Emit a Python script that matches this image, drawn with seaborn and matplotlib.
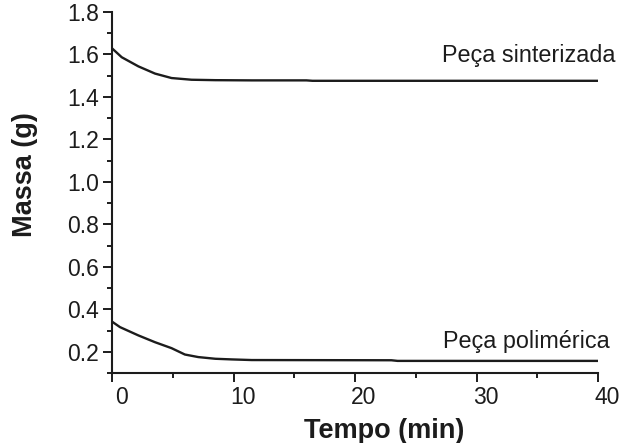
import matplotlib
matplotlib.use("Agg")
import matplotlib.pyplot as plt
import matplotlib.transforms as mtransforms
from matplotlib.ticker import MultipleLocator
import pandas as pd
import seaborn as sns

# values
tempo_sinterizada = [0, 0.8, 2.17, 3.54, 4.9, 6.55, 8.5, 11.5, 16, 16.5, 25, 40]
massa_sinterizada = [1.629, 1.587, 1.544, 1.51, 1.489, 1.481, 1.479, 1.478, 1.478, 1.476, 1.476, 1.476]

tempo_polimerica = [0, 0.66, 2.17, 3.54, 4.9, 6.0, 7.1, 8.5, 9.85, 11.5, 23, 23.5, 40]
massa_polimerica = [0.342, 0.316, 0.277, 0.245, 0.217, 0.187, 0.175, 0.167, 0.164, 0.161, 0.16, 0.157, 0.157]

rotulos = ["Peça sinterizada", "Peça polimérica"]
x_ticks = [0, 10, 20, 30, 40]
y_ticks = [0.2, 0.4, 0.6, 0.8, 1.0, 1.2, 1.4, 1.6, 1.8]

sns.set_style("ticks")
plt.rcParams['font.family'] = ['Liberation Sans', 'DejaVu Sans']

ink = "#1c1c1c"

df_sint = pd.DataFrame({"Tempo": tempo_sinterizada, "Massa": massa_sinterizada})
df_poli = pd.DataFrame({"Tempo": tempo_polimerica, "Massa": massa_polimerica})

fig = plt.figure(figsize=(6.23, 4.43), dpi=100)
ax = fig.add_axes([112 / 623, 1 - 373 / 443, 486 / 623, 361 / 443])

sns.lineplot(data=df_sint, x="Tempo", y="Massa", color=ink, linewidth=1.7, ax=ax)
sns.lineplot(data=df_poli, x="Tempo", y="Massa", color=ink, linewidth=1.7, ax=ax)

ax.set_xlim(0, 40)
ax.set_ylim(0.1, 1.8)
ax.set_xticks(x_ticks)
ax.set_yticks(y_ticks)
ax.set_yticklabels([f"{v:.1f}" for v in y_ticks])
ax.xaxis.set_minor_locator(MultipleLocator(5))
ax.yaxis.set_minor_locator(MultipleLocator(0.1))

ax.tick_params(axis='both', which='major', direction='out', length=6.5, width=1.4,
               color=ink, labelsize=16.5, labelcolor=ink)
ax.tick_params(axis='both', which='minor', direction='out', length=3.5, width=1.4, color=ink)
ax.tick_params(axis='x', which='major', pad=3)
ax.tick_params(axis='y', which='major', pad=3)

# x tick labels sit a little to the right of their ticks in the original
shift = mtransforms.ScaledTranslation(9 / 100, 0, fig.dpi_scale_trans)
for lab in ax.get_xticklabels():
    lab.set_transform(lab.get_transform() + shift)

sns.despine(ax=ax)
for side in ["left", "bottom"]:
    ax.spines[side].set_linewidth(1.5)
    ax.spines[side].set_color(ink)

ax.set_xlabel("Tempo (min)", fontsize=19.5, fontweight='bold', color=ink)
ax.set_ylabel("Massa (g)", fontsize=19.5, fontweight='bold', color=ink)
ax.xaxis.label.set_va('center')
ax.yaxis.label.set_va('center')
ax.xaxis.set_label_coords(0.56, -0.16)
ax.yaxis.set_label_coords(-0.18, 0.551)

# curve labels, right-aligned just past the end of the x axis
ax.text(41.4, 1.595, rotulos[0], fontsize=16.8, color=ink, ha='right', va='center', clip_on=False)
ax.text(41.0, 0.25, rotulos[1], fontsize=16.8, color=ink, ha='right', va='center', clip_on=False)

fig.savefig("out.png", dpi=100, facecolor="white")
